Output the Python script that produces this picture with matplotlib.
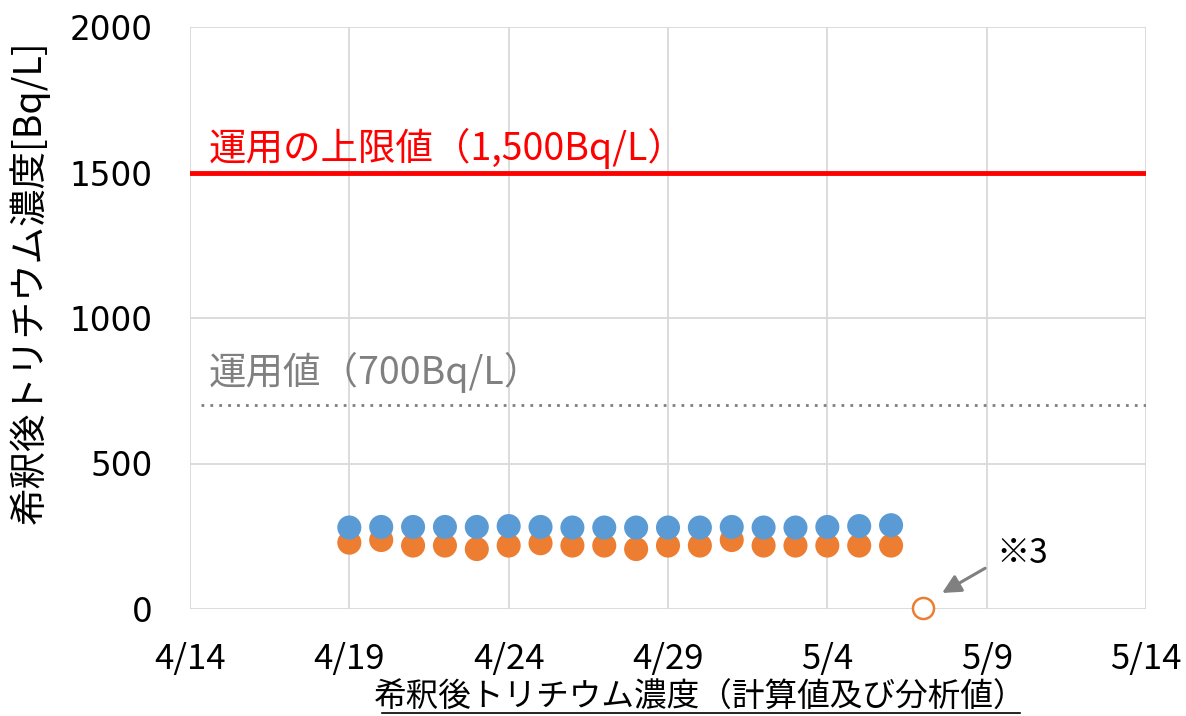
import datetime as dt
import matplotlib
matplotlib.use("Agg")
import matplotlib.pyplot as plt
import matplotlib.dates as mdates
from matplotlib.lines import Line2D

plt.rcParams["font.family"] = ["Noto Sans CJK JP", "DejaVu Sans"]

# ===== データ =====
start = dt.date(2024, 4, 19)
dates = [start + dt.timedelta(days=i) for i in range(18)]
# 計算値（青）
calc = [280, 282, 282, 282, 282, 285, 282, 280, 280, 280, 280, 280, 282, 280, 280, 282, 285, 288]
# 分析値（オレンジ）
anal = [228, 237, 218, 218, 206, 218, 226, 218, 218, 206, 218, 218, 237, 218, 218, 218, 218, 218]
# ※3 の分析値（白抜き）
nd_date = [dt.date(2024, 5, 7)]
nd_val = [5]

limit_upper = 1500
limit_ops = 700
xticks = [dt.date(2024, 4, 14) + dt.timedelta(days=5 * i) for i in range(7)]
xtick_labels = ["4/14", "4/19", "4/24", "4/29", "5/4", "5/9", "5/14"]
yticks = [0, 500, 1000, 1500, 2000]

# ===== 描画 =====
fig = plt.figure(figsize=(11.86, 7.16), dpi=100)
ax = fig.add_axes([190 / 1186, 1 - 609 / 716, (1146 - 190) / 1186, (609 - 27) / 716])

x0 = mdates.date2num(xticks[0])
ax.set_xlim(xticks[0], xticks[-1])
ax.set_ylim(0, 2000)
ax.set_xticks(xticks)
ax.set_xticklabels(xtick_labels, fontsize=25)
ax.set_yticks(yticks)
ax.set_yticklabels([str(v) for v in yticks], fontsize=23.5, family="DejaVu Sans")
ax.grid(True, color="#d9d9d9", linewidth=1.3)
ax.set_axisbelow(True)
for s in ax.spines.values():
    s.set_visible(False)
ax.tick_params(length=0)
ax.tick_params(axis="x", pad=24)
ax.tick_params(axis="y", pad=27)

# 上限値・運用値
ax.axhline(limit_upper, color="#ff0000", linewidth=3.5, zorder=3)
ax.axhline(limit_ops, xmin=0.012, color="#808080", linewidth=2, linestyle=(0, (1, 2.2)), zorder=3)
ax.text(x0 + 0.6, 1512, "運用の上限値（1,500Bq/L）",
        color="#ff0000", fontsize=27, va="bottom")
ax.text(x0 + 0.6, 742, "運用値（700Bq/L）",
        color="#808080", fontsize=27, va="bottom")

# 散布点
ax.scatter(dates, anal, s=300, color="#ed7d31", edgecolors="none", zorder=4)
ax.scatter(dates, calc, s=300, color="#5b9bd5", edgecolors="none", zorder=5)
ax.scatter(nd_date, nd_val, s=230, facecolors="white", edgecolors="#ed7d31", linewidths=1.8,
           zorder=5, clip_on=False)

# ※3 注記
ax.annotate("", xy=(x0 + 23.6, 55), xytext=(x0 + 24.95, 140),
            arrowprops=dict(arrowstyle="-|>", color="#808080", lw=2.2, mutation_scale=28,
                            shrinkA=0, shrinkB=0))
ax.text(x0 + 25.3, 190, "※3", fontsize=24, va="center")

ax.set_ylabel("希釈後トリチウム濃度[Bq/L]", fontsize=27, labelpad=2)
ax.yaxis.set_label_coords(-0.147, 0.562)

# x軸タイトル（下線付き）
fig.text(700 / 1186, 1 - 698 / 716, "希釈後トリチウム濃度（計算値及び分析値）", fontsize=23.5,
         ha="center", va="center")
fig.add_artist(Line2D([382 / 1186, 1020 / 1186], [1 - 713 / 716, 1 - 713 / 716],
                      color="black", linewidth=1.2))

fig.savefig("out.png", dpi=100)
